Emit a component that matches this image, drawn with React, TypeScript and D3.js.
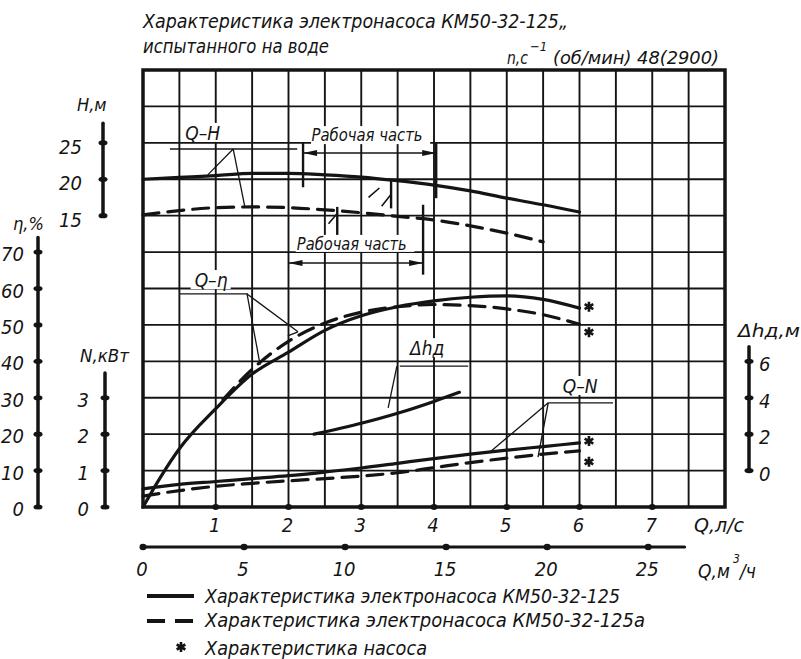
import React from 'react';
import * as d3 from 'd3';

// flow, l/s
const Q_GRID = [0, 0.5, 1, 1.5, 2, 2.5, 3, 3.5, 4, 4.5, 5, 5.5, 6];
// Q-H, m
const H_SOLID = [20.0, 20.25, 20.5, 20.8, 20.8, 20.6, 20.3, 19.8, 19.2, 18.4, 17.4, 16.5, 15.5];
const H_DASH_Q = [0, 0.5, 1, 1.5, 2, 2.5, 3, 3.5, 4, 4.5, 5, 5.5];
const H_DASH = [15.1, 15.7, 16.1, 16.2, 16.1, 15.8, 15.4, 14.9, 14.4, 13.6, 12.6, 11.4];
// Q-eta, %
const ETA_SOLID_Q = [0, 0.25, 0.5, 1, 1.5, 2, 2.5, 3, 3.5, 4, 4.5, 5, 5.5, 6];
const ETA_SOLID = [0, 8.5, 16, 27, 36.5, 42.5, 48.5, 52.5, 55, 56.6, 57.6, 58, 57, 54.6];
const ETA_DASH_Q = [1.1, 1.5, 2, 2.5, 3, 3.5, 4, 4.5, 5, 5.5, 6];
const ETA_DASH = [29.5, 37.8, 45.5, 50.5, 53.5, 55, 55.6, 55.3, 54.4, 52.8, 50.2];
// Q-N, kW
const N_SOLID = [0.5, 0.62, 0.7, 0.78, 0.86, 0.96, 1.07, 1.2, 1.33, 1.45, 1.56, 1.66, 1.76];
const N_DASH = [0.3, 0.45, 0.57, 0.65, 0.72, 0.78, 0.85, 0.94, 1.08, 1.22, 1.34, 1.45, 1.54];
// delta h, m
const DH_Q = [2.35, 3, 3.5, 4, 4.35];
const DH = [2.0, 2.6, 3.15, 3.8, 4.3];
// pump-only points (*)
const STAR_Q = 6.13;
const STAR_ETA = [55, 48];
const STAR_N = [1.81, 1.24];

// axes
const Q_TICKS = [1, 2, 3, 4, 5, 6, 7];
const M3H_TICKS = [0, 5, 10, 15, 20, 25];
const H_TICKS = [15, 20, 25];
const ETA_TICKS = [0, 10, 20, 30, 40, 50, 60, 70];
const N_TICKS = [0, 1, 2, 3];
const DH_TICKS = [0, 2, 4, 6];

const W = 801;
const H = 659;
const L = 143, R = 725, T = 70, B = 507;
const INK = '#141414';
const FONT = "'DejaVu Sans Condensed', 'Liberation Sans Narrow', 'DejaVu Sans', sans-serif";

const x = d3.scaleLinear().domain([0, 8]).range([L, R]);
const yH = d3.scaleLinear().domain([-25, 35]).range([B, T]);
const yEta = d3.scaleLinear().domain([0, 120]).range([B, T]);
const yN = d3.scaleLinear().domain([0, 12]).range([B, T]);
const yDh = d3.scaleLinear().domain([-2, 22]).range([B, T]);

const curve = (qs: number[], vs: number[], ys: d3.ScaleLinear<number, number>) =>
  d3.line<number>().x((_, i) => x(qs[i])).y(v => ys(v)).curve(d3.curveMonotoneX)(vs) || '';

const star = d3.symbol(d3.symbolAsterisk, 70)() || '';

const txt = { fontFamily: FONT, fontStyle: 'italic' as const, fill: INK };

// leader lines: [q1, v1, q2, v2] with v in eta units (grid units)
const LEADERS = [
  [0.37, 98.3, 2.12, 98.3], [1.24, 98.3, 0.89, 91.2], [1.24, 98.3, 1.4, 82.4],
  [0.51, 58.5, 1.44, 58.5], [1.43, 58.5, 1.61, 39.0], [1.43, 58.5, 2.13, 48.1], [2.13, 48.1, 1.99, 47.0],
  [3.53, 38.7, 4.47, 38.7], [3.49, 38.7, 3.37, 27.2],
  [5.57, 28.6, 6.46, 28.6], [5.57, 28.6, 4.77, 15.1], [5.57, 28.6, 5.43, 13.7],
];
// curve labels: text, q, v (eta units), box width
const LABELS: [string, number, number, number][] = [
  ['Q–H', 0.58, 100.8, 40],
  ['Q–η', 0.71, 60.4, 40],
  ['Δhд', 3.67, 41.7, 48],
  ['Q–N', 5.77, 31.3, 42],
];
// working range brackets in H units
const WORK_UP = { q1: 2.2, q2: 4.03, hArrow: 23.6, top: 25.1, b1: 18.9, b2: 17.4 };
const WORK_DN = { a1: 2.0, q1: 2.67, q2: 3.85, hArrow: 8.5, top1: 16.2, b1: 11.7, top2: 16.5, b2: 6.9 };

const Arrow = ({ x1, x2, y }: { x1: number; x2: number; y: number }) => (
  <g>
    <line x1={x1} x2={x2} y1={y} y2={y} stroke={INK} strokeWidth={1.6} />
    <path d={`M${x1},${y}l14,-3l0,6z`} fill={INK} />
    <path d={`M${x2},${y}l-14,-3l0,6z`} fill={INK} />
  </g>
);

const VAxis = ({ ax, ticks, ys, top, bottom }: { ax: number; ticks: number[]; ys: d3.ScaleLinear<number, number>; top: number; bottom: number }) => (
  <g>
    <line x1={ax} x2={ax} y1={ys(bottom)} y2={ys(top)} stroke={INK} strokeWidth={3.5} strokeLinecap="round" />
    {ticks.map(t => (
      <ellipse key={t} cx={ax} cy={ys(t)} rx={4.5} ry={2.6} fill={INK} />
    ))}
  </g>
);

export default function App() {
  const cols = d3.range(0, 8.01, 0.5);
  const rows = d3.range(0, 120.01, 10);
  const m3x = (m: number) => x(m / 3.6);
  const up = WORK_UP;
  const dn = WORK_DN;

  return (
    <svg width={W} height={H} viewBox={`0 0 ${W} ${H}`} style={{ position: 'absolute', left: 0, top: 0, background: '#fff' }}>
      <rect width={W} height={H} fill="#fff" />

      {/* title */}
      <text {...txt} x={143} y={28} fontSize={20} textLength={425} lengthAdjust="spacingAndGlyphs">Характеристика электронасоса КМ50-32-125„</text>
      <text {...txt} x={143} y={53} fontSize={20} textLength={186} lengthAdjust="spacingAndGlyphs">испытанного на воде</text>
      <text {...txt} x={507} y={64} fontSize={17} textLength={21} lengthAdjust="spacingAndGlyphs">n,с</text>
      <text {...txt} x={530} y={51} fontSize={13}>−1</text>
      <text {...txt} x={553} y={64} fontSize={17} textLength={166} lengthAdjust="spacingAndGlyphs">(об/мин) 48(2900)</text>

      {/* grid */}
      {cols.map(c => (
        <line key={'c' + c} x1={x(c)} x2={x(c)} y1={T} y2={B} stroke={INK} strokeWidth={1.9} />
      ))}
      {rows.map(r => (
        <line key={'r' + r} x1={L} x2={R} y1={yEta(r)} y2={yEta(r)} stroke={INK} strokeWidth={1.9} />
      ))}
      <rect x={L} y={T} width={R - L} height={B - T} fill="none" stroke={INK} strokeWidth={3.5} />

      {/* Q axis, l/s */}
      {Q_TICKS.map(t => (
        <g key={'q' + t}>
          <ellipse cx={x(t)} cy={B} rx={3.5} ry={3} fill={INK} />
          <text {...txt} x={x(t) - 1} y={532} fontSize={20} textAnchor="middle">{t}</text>
        </g>
      ))}
      <text {...txt} x={694} y={532} fontSize={19} textLength={50} lengthAdjust="spacingAndGlyphs">Q,л/с</text>

      {/* Q axis, m3/h */}
      <line x1={m3x(0)} x2={m3x(26.8)} y1={547} y2={547} stroke={INK} strokeWidth={3.2} strokeLinecap="round" />
      {M3H_TICKS.map(t => (
        <g key={'m' + t}>
          <ellipse cx={m3x(t)} cy={547} rx={3.5} ry={3.2} fill={INK} />
          <text {...txt} x={m3x(t) - 1} y={576} fontSize={20} textAnchor="middle">{t}</text>
        </g>
      ))}
      <text {...txt} x={698} y={578} fontSize={19}>Q,м</text>
      <text {...txt} x={733} y={563} fontSize={12}>3</text>
      <text {...txt} x={740} y={578} fontSize={19}>/ч</text>

      {/* left axes */}
      <VAxis ax={38} ticks={ETA_TICKS} ys={yEta} top={74} bottom={0} />
      {ETA_TICKS.map(t => (
        <text key={'e' + t} {...txt} x={24} y={yEta(t) + 9} fontSize={20} textAnchor="end">{t}</text>
      ))}
      <text {...txt} x={13} y={230} fontSize={18}>η,%</text>

      <VAxis ax={105} ticks={N_TICKS} ys={yN} top={3.68} bottom={0} />
      {N_TICKS.map(t => (
        <text key={'n' + t} {...txt} x={89} y={yN(t) + 9} fontSize={20} textAnchor="end">{t}</text>
      ))}
      <text {...txt} x={80} y={362} fontSize={18} textLength={49} lengthAdjust="spacingAndGlyphs">N,кВт</text>

      <VAxis ax={103} ticks={H_TICKS} ys={yH} top={27.7} bottom={15} />
      {H_TICKS.map(t => (
        <text key={'h' + t} {...txt} x={82} y={yH(t) + 11} fontSize={20} textAnchor="end">{t}</text>
      ))}
      <text {...txt} x={77} y={111} fontSize={18}>H,м</text>

      {/* right axis delta h */}
      <VAxis ax={749} ticks={DH_TICKS} ys={yDh} top={6.8} bottom={0} />
      {DH_TICKS.map(t => (
        <text key={'d' + t} {...txt} x={759} y={yDh(t) + 10} fontSize={20}>{t}</text>
      ))}
      <text {...txt} x={738} y={337} fontSize={18} textLength={62} lengthAdjust="spacingAndGlyphs">Δhд,м</text>

      {/* curve labels with blank ground */}
      {LABELS.map(([s, q, v, w]) => (
        <g key={s}>
          <rect x={x(q) - 4} y={yEta(v) - 17} width={w} height={19} fill="#fff" />
          <text {...txt} x={x(q)} y={yEta(v)} fontSize={19}>{s}</text>
        </g>
      ))}

      {/* curves */}
      <g fill="none" stroke={INK} strokeWidth={3.2} strokeLinecap="round">
        <path d={curve(Q_GRID, H_SOLID, yH)} />
        <path d={curve(H_DASH_Q, H_DASH, yH)} strokeDasharray="16 9" />
        <path d={curve(ETA_SOLID_Q, ETA_SOLID, yEta)} />
        <path d={curve(ETA_DASH_Q, ETA_DASH, yEta)} strokeDasharray="16 9" />
        <path d={curve(Q_GRID, N_SOLID, yN)} />
        <path d={curve(Q_GRID, N_DASH, yN)} strokeDasharray="16 9" />
        <path d={curve(DH_Q, DH, yDh)} />
      </g>

      {/* pump points */}
      <g stroke={INK} strokeWidth={2.6} fill="none">
        {STAR_ETA.map(v => <path key={'se' + v} d={star} transform={`translate(${x(STAR_Q)},${yEta(v)})`} />)}
        {STAR_N.map(v => <path key={'sn' + v} d={star} transform={`translate(${x(STAR_Q)},${yN(v)})`} />)}
      </g>

      {/* leaders */}
      <g stroke={INK} strokeWidth={1.3}>
        {LEADERS.map((l, i) => (
          <line key={'l' + i} x1={x(l[0])} y1={yEta(l[1])} x2={x(l[2])} y2={yEta(l[3])} />
        ))}
      </g>

      {/* working range, solid */}
      <g stroke={INK} strokeWidth={2.4}>
        <line x1={x(up.q1)} x2={x(up.q1)} y1={yH(up.top)} y2={yH(up.b1)} />
        <line x1={x(up.q2)} x2={x(up.q2)} y1={yH(up.top)} y2={yH(up.b2)} />
      </g>
      <Arrow x1={x(up.q1)} x2={x(up.q2)} y={yH(up.hArrow)} />
      <rect x={x(up.q1) + 8} y={yH(up.top) - 16} width={x(up.q2) - x(up.q1) - 14} height={18} fill="#fff" />
      <text {...txt} x={x(3.08)} y={yH(up.top) - 1} fontSize={17} textAnchor="middle" textLength={111} lengthAdjust="spacingAndGlyphs">Рабочая часть</text>

      {/* working range, dashed */}
      <g stroke={INK} strokeWidth={2.4}>
        <line x1={x(dn.q1)} x2={x(dn.q1)} y1={yH(dn.top1)} y2={yH(dn.b1)} />
        <line x1={x(dn.q2)} x2={x(dn.q2)} y1={yH(dn.top2)} y2={yH(dn.b2)} />
        <line x1={x(3.41)} x2={x(3.41)} y1={yH(19.9)} y2={yH(16.0)} />
        <line x1={x(3.1)} x2={x(3.25)} y1={yH(17.5)} y2={yH(18.8)} strokeWidth={1.6} />
        <line x1={x(3.28)} x2={x(3.4)} y1={yH(16.3)} y2={yH(17.8)} strokeWidth={1.6} />
        <line x1={x(2.55)} x2={x(2.66)} y1={yH(13.9)} y2={yH(15.2)} strokeWidth={1.6} />
      </g>
      <Arrow x1={x(dn.a1)} x2={x(dn.q2)} y={yH(dn.hArrow)} />
      <rect x={x(2.1)} y={yH(10.3) - 15} width={x(3.73) - x(2.1)} height={17} fill="#fff" />
      <text {...txt} x={x(2.87)} y={yH(10.3)} fontSize={17} textAnchor="middle" textLength={110} lengthAdjust="spacingAndGlyphs">Рабочая часть</text>

      {/* legend */}
      <line x1={147} x2={194} y1={596} y2={596} stroke={INK} strokeWidth={4} />
      <text {...txt} x={205} y={603} fontSize={19} textLength={415} lengthAdjust="spacingAndGlyphs">Характеристика электронасоса КМ50-32-125</text>
      <line x1={147} x2={194} y1={621} y2={621} stroke={INK} strokeWidth={4} strokeDasharray="18 10" />
      <text {...txt} x={205} y={627} fontSize={19} textLength={440} lengthAdjust="spacingAndGlyphs">Характеристика электронасоса КМ50-32-125а</text>
      <path d={star} transform="translate(181,647)" stroke={INK} strokeWidth={2.6} />
      <text {...txt} x={205} y={655} fontSize={19} textLength={222} lengthAdjust="spacingAndGlyphs">Характеристика насоса</text>
    </svg>
  );
}
